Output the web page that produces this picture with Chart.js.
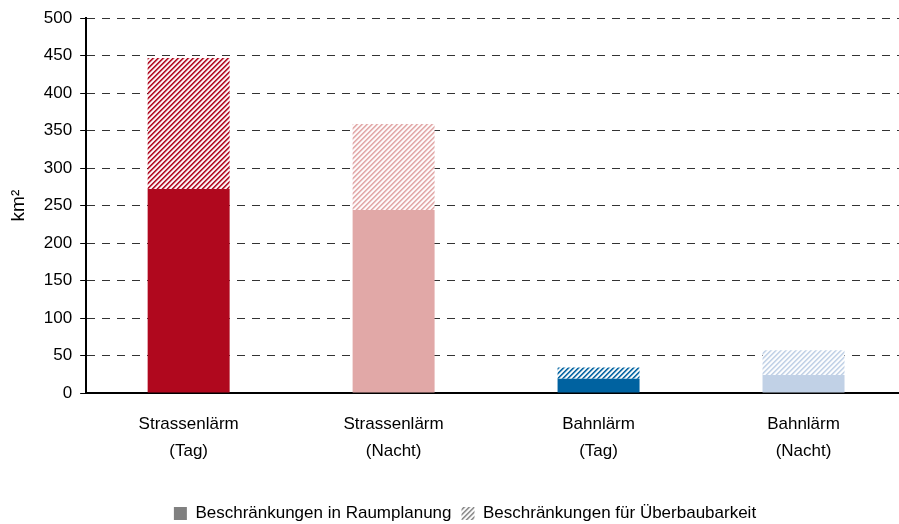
<!DOCTYPE html>
<html>
<head>
<meta charset="utf-8">
<script src="https://cdn.jsdelivr.net/npm/chart.js@4/dist/chart.umd.min.js"></script>
<style>
  html, body { margin: 0; padding: 0; background: #fff; overflow: hidden; }
  #wrap { width: 910px; height: 524px; }
</style>
</head>
<body>
<div id="wrap"><canvas id="laermChart" width="910" height="524"></canvas></div>
<script>
const categories = [['Strassenlärm', '(Tag)'], ['Strassenlärm', '(Nacht)'], ['Bahnlärm', '(Tag)'], ['Bahnlärm', '(Nacht)']];
const raumplanung = [272, 244, 19, 24];
const ueberbaubarkeit = [175, 115, 15, 33];
const barColors = ['#b0081e', '#e1a8a7', '#0062a0', '#c1d1e6'];
const yTicks = [0, 50, 100, 150, 200, 250, 300, 350, 400, 450, 500];

const FONT = '"Liberation Sans Narrow", "Arial Narrow", "Liberation Sans", Arial, sans-serif';

function mix(hex, t) {
    const n = parseInt(hex.slice(1), 16);
    const r = (n >> 16) & 255, g = (n >> 8) & 255, b = n & 255;
    return [Math.round(r + (255 - r) * t), Math.round(g + (255 - g) * t), Math.round(b + (255 - b) * t)];
}

// diagonal "/" stripes, colour on white
function hatch(color) {
    const size = 5;
    const c = document.createElement('canvas');
    c.width = size; c.height = size;
    const cx = c.getContext('2d');
    const img = cx.createImageData(size, size);
    const shades = [0, 0.2, 0.75, 1, 0.75];
    for (let y = 0; y < size; y++) {
        for (let x = 0; x < size; x++) {
            const rgb = mix(color, shades[(x + y) % size]);
            const i = (y * size + x) * 4;
            img.data[i] = rgb[0]; img.data[i + 1] = rgb[1]; img.data[i + 2] = rgb[2]; img.data[i + 3] = 255;
        }
    }
    cx.putImageData(img, 0, 0);
    return cx.createPattern(c, 'repeat');
}

// move the legend a bit right and down, like the original
const legendShift = {
    id: 'legendShift',
    afterLayout(chart) {
        const lg = chart.legend;
        if (lg) { lg.left += 10; lg.right += 10; lg.top += 8; lg.bottom += 8; }
    }
};

const ctx = document.getElementById('laermChart');

new Chart(ctx, {
    type: 'bar',
    data: {
        labels: categories,
        datasets: [{
            label: 'Beschränkungen in Raumplanung',
            data: raumplanung,
            backgroundColor: barColors,
            borderWidth: 0
        }, {
            label: 'Beschränkungen für Überbaubarkeit',
            data: ueberbaubarkeit,
            backgroundColor: barColors.map(hatch),
            borderWidth: 0
        }]
    },
    plugins: [legendShift],
    options: {
        responsive: false,
        animation: false,
        datasets: { bar: { barPercentage: 0.4, categoryPercentage: 1 } },
        layout: { padding: { left: 4, right: 4, top: 16, bottom: 0 } },
        scales: {
            x: {
                stacked: true,
                grid: { display: false },
                border: { color: '#000', width: 2 },
                ticks: { color: '#000', font: { family: FONT, size: 17, lineHeight: '27px' }, padding: 10, maxRotation: 0 },
                afterFit: axis => { axis.height = 94; }
            },
            y: {
                stacked: true,
                min: 0, max: 500,
                afterBuildTicks: axis => { axis.ticks = yTicks.map(v => ({ value: v })); },
                grid: {
                    color: '#333', lineWidth: 1,
                    tickLength: 6, tickColor: '#000', tickBorderDash: [], drawTicks: true
                },
                border: { color: '#000', width: 2, dash: [8, 7] },
                ticks: { color: '#000', font: { family: FONT, size: 17 }, padding: 8 },
                title: { display: true, text: 'km²', color: '#000', font: { family: FONT, size: 19 }, padding: { top: 3, bottom: 6 } }
            }
        },
        plugins: {
            tooltip: { enabled: false },
            legend: {
                position: 'bottom',
                labels: {
                    color: '#000',
                    font: { family: FONT, size: 17 },
                    boxWidth: 13, boxHeight: 13, padding: 10,
                    generateLabels: () => [
                        { text: 'Beschränkungen in Raumplanung', fillStyle: '#808080', strokeStyle: '#808080', lineWidth: 0, datasetIndex: 0 },
                        { text: 'Beschränkungen für Überbaubarkeit', fillStyle: hatch('#8a8a8a'), strokeStyle: '#fff', lineWidth: 0, datasetIndex: 1 }
                    ]
                }
            }
        }
    }
});
</script>
</body>
</html>
